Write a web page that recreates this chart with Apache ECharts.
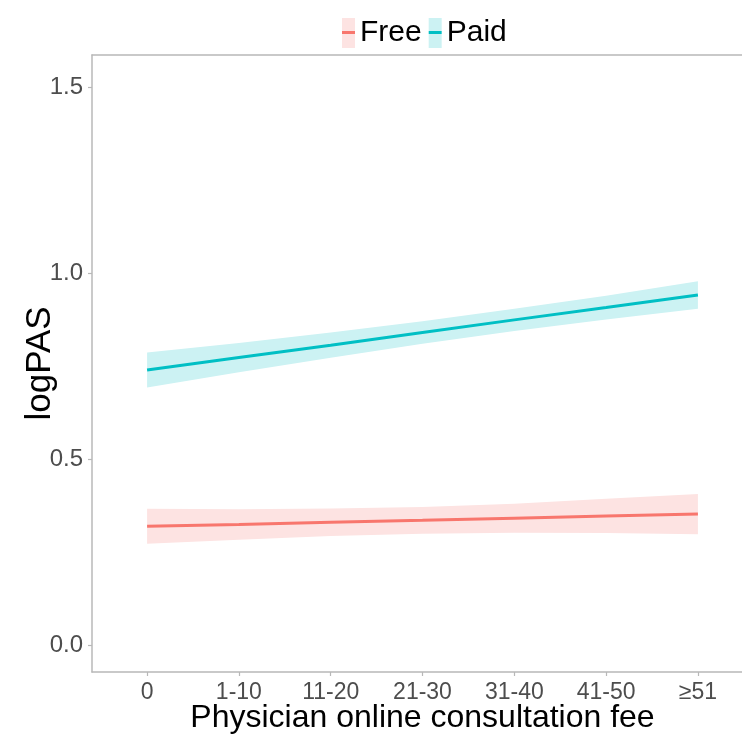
<!DOCTYPE html>
<html>
<head>
<meta charset="utf-8">
<script src="https://cdn.jsdelivr.net/npm/echarts@6/dist/echarts.min.js"></script>
<style>html,body{margin:0;padding:0;background:#fff;overflow:hidden;}#c{width:742px;height:736px;}</style>
</head>
<body>
<div id="c"></div>
<script>
const categories = ['0', '1-10', '11-20', '21-30', '31-40', '41-50', '≥51'];
const freeFit   = [0.319, 0.324, 0.330, 0.335, 0.341, 0.347, 0.352];
const freeLower = [0.272, 0.283, 0.293, 0.299, 0.302, 0.301, 0.298];
const freeUpper = [0.366, 0.365, 0.367, 0.371, 0.380, 0.393, 0.406];
const paidFit   = [0.739, 0.773, 0.806, 0.840, 0.874, 0.907, 0.941];
const paidLower = [0.692, 0.733, 0.772, 0.810, 0.844, 0.875, 0.904];
const paidUpper = [0.786, 0.812, 0.840, 0.870, 0.904, 0.939, 0.978];
const yTicks = [0, 0.5, 1.0, 1.5];

const FREE = '#F8766D', FREE_FILL = '#FDE3E2';
const PAID = '#00BFC4', PAID_FILL = '#CCF2F3';
const FONT = 'Liberation Sans, Arial, sans-serif';
const AXIS_GREY = '#b8b8b8';

const pairs = arr => arr.map((v, i) => [i, v]);
const keyGrad = (fill, line) => ({
  type: 'linear', x: 0, y: 0, x2: 0, y2: 1,
  colorStops: [
    {offset: 0, color: fill}, {offset: 0.45, color: fill},
    {offset: 0.45, color: line}, {offset: 0.55, color: line},
    {offset: 0.55, color: fill}, {offset: 1, color: fill}
  ]
});
const bandSeries = (name, lower, upper, fill) => ({
  type: 'custom', name: name, silent: true, clip: true,
  data: [0],
  encode: {x: -1, y: -1},
  renderItem: (params, api) => {
    const pts = [];
    upper.forEach((v, i) => pts.push(api.coord([i, v])));
    for (let i = lower.length - 1; i >= 0; i--) pts.push(api.coord([i, lower[i]]));
    return {type: 'polygon', shape: {points: pts}, style: {fill: fill, stroke: null}};
  },
  z: 1
});

const chart = echarts.init(document.getElementById('c'), null, {renderer: 'canvas'});
chart.setOption({
  animation: false,
  backgroundColor: '#fff',
  textStyle: {fontFamily: FONT},
  legend: {
    top: 13, left: 337,
    icon: 'rect', itemWidth: 13, itemHeight: 30, itemGap: 7,
    textStyle: {fontSize: 30, color: '#000', fontFamily: FONT},
    data: [
      {name: 'Free', itemStyle: {color: keyGrad(FREE_FILL, FREE)}},
      {name: 'Paid', itemStyle: {color: keyGrad(PAID_FILL, PAID)}}
    ]
  },
  grid: {
    left: 92, top: 55, width: 661, height: 617,
    outerBoundsMode: 'none',
    show: false, containLabel: false
  },
  xAxis: [{
    type: 'value', min: -0.6, max: 6.6, position: 'bottom',
    splitLine: {show: false},
    axisLine: {show: true, onZero: false, lineStyle: {color: AXIS_GREY, width: 1.5}},
    axisTick: {show: true, length: 4, lineStyle: {color: AXIS_GREY, width: 1.2}, customValues: categories.map((c, i) => i)},
    axisLabel: {
      customValues: categories.map((c, i) => i),
      formatter: v => categories[Math.round(v)],
      fontSize: 23, color: '#4d4d4d', margin: 9, fontFamily: FONT
    },
    name: 'Physician online consultation fee', nameLocation: 'middle', nameGap: 30,
    nameMoveOverlap: false,
    nameTextStyle: {fontSize: 32, color: '#000', fontFamily: FONT}
  }, {
    type: 'value', min: -0.6, max: 6.6, position: 'top',
    splitLine: {show: false},
    axisLine: {show: true, onZero: false, lineStyle: {color: AXIS_GREY, width: 1.5}},
    axisTick: {show: false}, axisLabel: {show: false}
  }],
  yAxis: {
    type: 'value', min: -0.0726, max: 1.586,
    splitLine: {show: false},
    axisLine: {show: true, onZero: false, lineStyle: {color: AXIS_GREY, width: 1.5}},
    axisTick: {show: true, length: 4, lineStyle: {color: AXIS_GREY, width: 1.2}, customValues: yTicks},
    axisLabel: {
      customValues: yTicks,
      formatter: v => v.toFixed(1),
      fontSize: 24, color: '#4d4d4d', margin: 9, fontFamily: FONT
    },
    name: 'logPAS', nameLocation: 'middle', nameGap: 34,
    nameMoveOverlap: false,
    nameTextStyle: {fontSize: 35, color: '#000', fontFamily: FONT}
  },
  series: [
    bandSeries('freeBand', freeLower, freeUpper, FREE_FILL),
    bandSeries('paidBand', paidLower, paidUpper, PAID_FILL),
    {type: 'line', name: 'Free', data: pairs(freeFit), symbol: 'none', color: FREE, lineStyle: {color: FREE, width: 3}, z: 3},
    {type: 'line', name: 'Paid', data: pairs(paidFit), symbol: 'none', color: PAID, lineStyle: {color: PAID, width: 3}, z: 3}
  ]
});
</script>
</body>
</html>
